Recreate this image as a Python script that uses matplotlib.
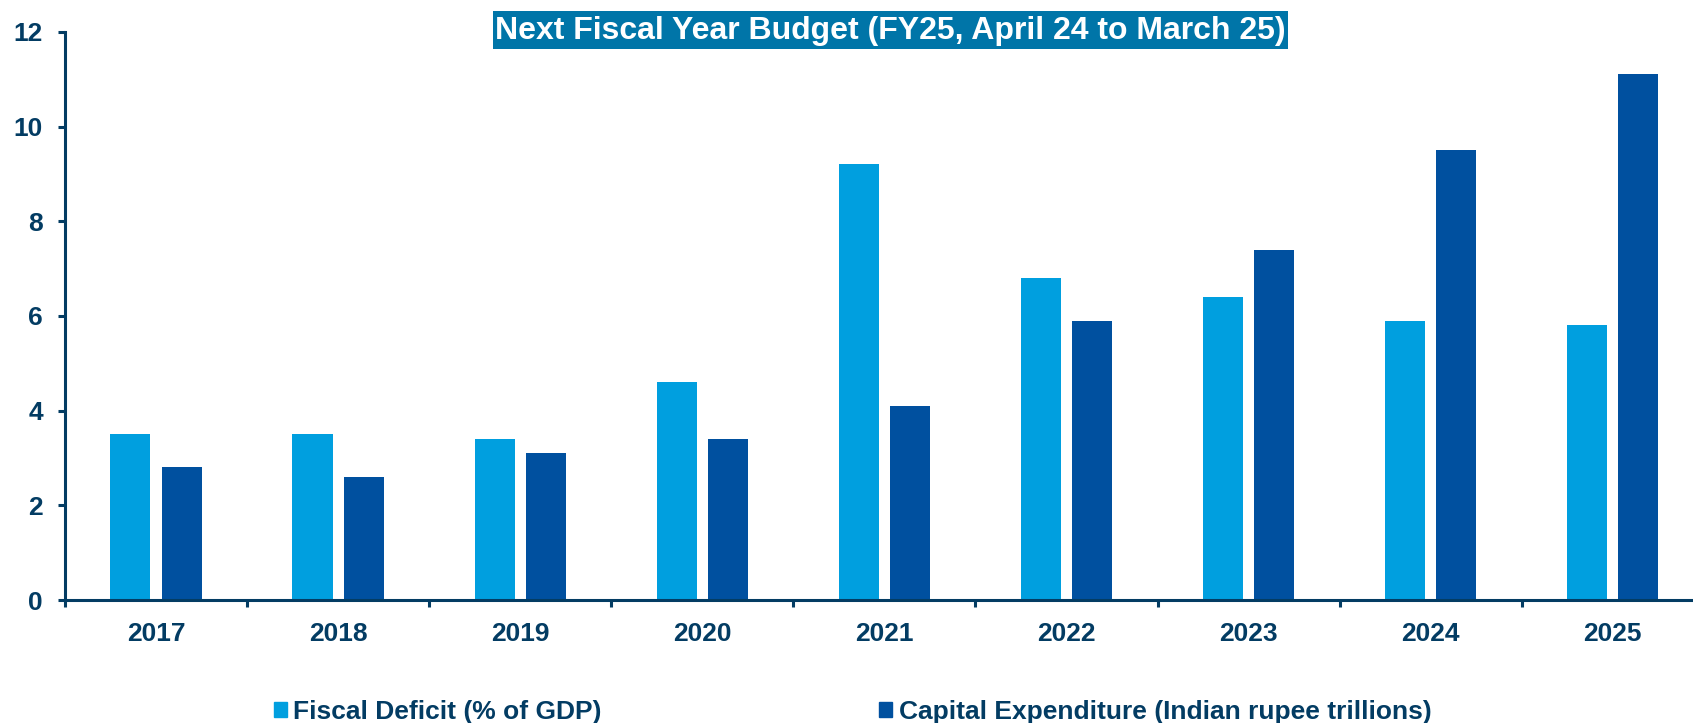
import numpy as np
import matplotlib.pyplot as plt
from matplotlib.patches import Patch, Rectangle

years = ["2017", "2018", "2019", "2020", "2021", "2022", "2023", "2024", "2025"]
fiscal_deficit = [3.5, 3.5, 3.4, 4.6, 9.2, 6.8, 6.4, 5.9, 5.8]
capex = [2.8, 2.6, 3.1, 3.4, 4.1, 5.9, 7.4, 9.5, 11.1]

light = "#009fdf"
dark = "#00509f"
navy = "#033c63"

plt.rcParams['font.family'] = ['Liberation Sans', 'DejaVu Sans']
plt.rcParams['font.weight'] = 'bold'

fig = plt.figure(figsize=(16.93, 7.23), dpi=100)
ax = fig.add_axes([0.0384, 0.170, 0.968, 0.786])

x = np.arange(len(years))
w = 0.22
ax.bar(x - 0.141, fiscal_deficit, w, color=light)
ax.bar(x + 0.141, capex, w, color=dark)

ax.set_xlim(-0.5, len(years) - 0.5)
ax.set_ylim(0, 12)
ax.set_yticks(range(0, 13, 2))

# category boundaries get the ticks, centres get the labels
ax.set_xticks(np.arange(-0.5, len(years), 1))
ax.set_xticklabels([])
ax.set_xticks(x, minor=True)
ax.set_xticklabels(years, minor=True)
ax.tick_params(axis='x', which='minor', length=0, pad=16)
ax.tick_params(axis='x', which='major', length=5, width=2.2, color=navy)
ax.tick_params(axis='y', length=5, width=2.2, color=navy, pad=11)
for lab in ax.get_xticklabels(minor=True) + ax.get_yticklabels():
    lab.set_fontsize(19)
    lab.set_color(navy)
    lab.set_fontweight('bold')

for s in ['top', 'right']:
    ax.spines[s].set_visible(False)
for s in ['left', 'bottom']:
    ax.spines[s].set_color(navy)
    ax.spines[s].set_linewidth(2.2)

fig.patches.append(Rectangle((0.2912, 0.9322), 0.4696, 0.0526, transform=fig.transFigure,
                             facecolor='#0075a8', edgecolor='none'))
fig.text(0.526, 0.957, "Next Fiscal Year Budget (FY25, April 24 to March 25)",
         ha='center', va='center', fontsize=23, color='white', fontweight='bold')

handles = [Patch(color=light, label="Fiscal Deficit (% of GDP)"),
           Patch(color=dark, label="Capital Expenditure (Indian rupee trillions)")]
leg = fig.legend(handles=handles, loc='center', bbox_to_anchor=(0.5036, 0.015), ncol=2,
                 frameon=False, handlelength=0.5, handleheight=0.5, handletextpad=0.25,
                 columnspacing=10.5, borderpad=0, borderaxespad=0,
                 prop={'weight': 'bold', 'size': 19})
for t in leg.get_texts():
    t.set_color(navy)

fig.savefig("out.png", dpi=100)
